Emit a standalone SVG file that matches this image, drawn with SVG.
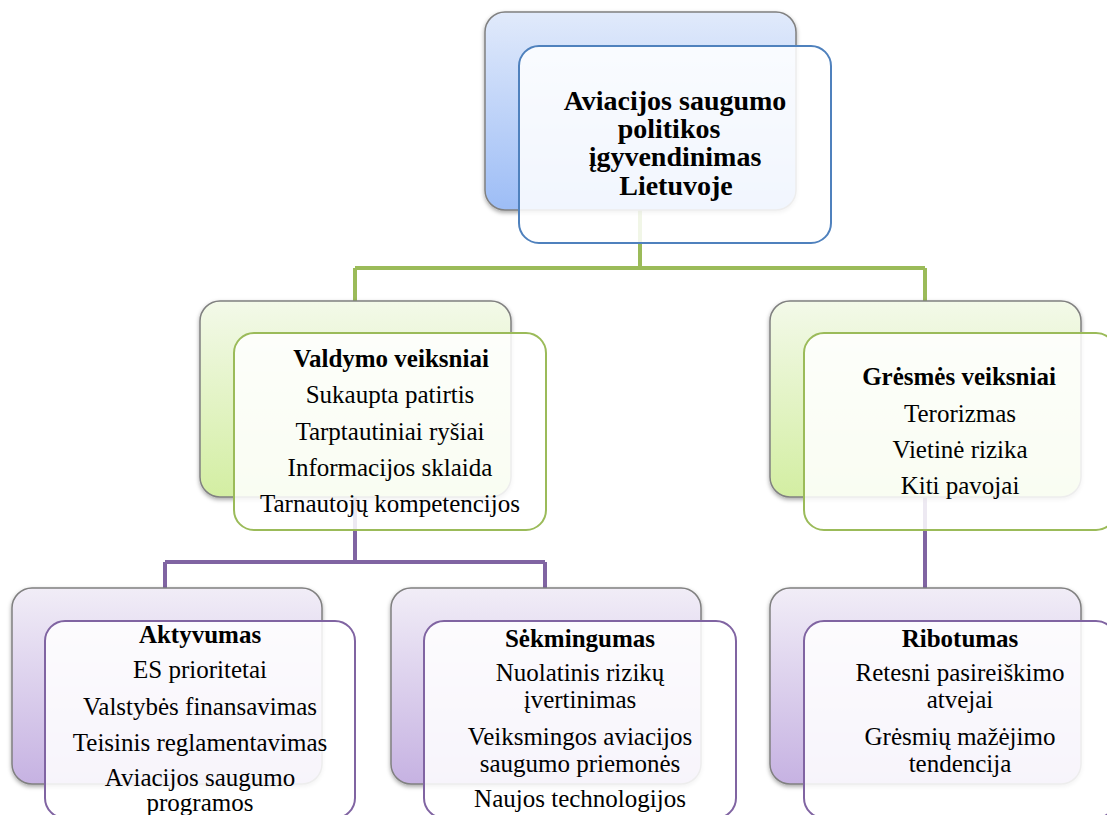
<svg xmlns="http://www.w3.org/2000/svg" width="1107" height="815" viewBox="0 0 1107 815">
<defs>
<linearGradient id="gBlue" x1="0" y1="0" x2="0" y2="1">
<stop offset="0" stop-color="#e1eafb"/><stop offset="1" stop-color="#9dbdf6"/>
</linearGradient>
<linearGradient id="gGreen" x1="0" y1="0" x2="0" y2="1">
<stop offset="0" stop-color="#f3f9e9"/><stop offset="1" stop-color="#d3eea2"/>
</linearGradient>
<linearGradient id="gPurple" x1="0" y1="0" x2="0" y2="1">
<stop offset="0" stop-color="#f1edf7"/><stop offset="1" stop-color="#c6b2e2"/>
</linearGradient>
<filter id="sh" x="-10%" y="-10%" width="120%" height="125%">
<feDropShadow dx="0" dy="2" stdDeviation="2" flood-color="#000" flood-opacity="0.35"/>
</filter>
</defs>
<style>
.back{stroke:#808080;stroke-width:1.5;filter:url(#sh)}
.front{fill:#ffffff;fill-opacity:0.86;stroke-width:2}
.fb{stroke:#4f81bd}.fg{stroke:#9bbb59}.fp{stroke:#8064a2}
.conG{fill:none;stroke:#9bbb59;stroke-width:4}
.conP{fill:none;stroke:#8064a2;stroke-width:4}
text{font-family:"Liberation Serif","Times New Roman",serif;fill:#000;text-anchor:middle}
.t{font-size:25px}
.b{font-size:25px;font-weight:bold}
.top{font-size:28px;font-weight:bold}
</style>
<g id="connectors">
<path class="conG" d="M640,210 V268 M355,268 H925 M355,268 V301 M925,268 V301"/>
<path class="conP" d="M355,497 V562 M165,562 H545 M165,562 V588 M545,562 V588"/>
<path class="conP" d="M925,497 V588"/>
</g>
<g id="node-root">
<rect class="back" x="485" y="12" width="311" height="198" rx="20" fill="url(#gBlue)"/>
<rect class="front fb" x="519" y="46" width="312" height="197" rx="20"/>
<text class="top" x="675" y="110">Aviacijos saugumo</text>
<text class="top" x="669" y="138">politikos</text>
<text class="top" x="675" y="166">įgyvendinimas</text>
<text class="top" x="676" y="195">Lietuvoje</text>
</g>
<g id="node-valdymo">
<rect class="back" x="200" y="301" width="311" height="196" rx="20" fill="url(#gGreen)"/>
<rect class="front fg" x="234" y="333" width="312" height="197" rx="20"/>
<text class="b" x="391" y="367">Valdymo veiksniai</text>
<text class="t" x="390" y="403">Sukaupta patirtis</text>
<text class="t" x="390" y="440">Tarptautiniai ryšiai</text>
<text class="t" x="390" y="476">Informacijos sklaida</text>
<text class="t" x="390" y="512">Tarnautojų kompetencijos</text>
</g>
<g id="node-gresmes">
<rect class="back" x="770" y="301" width="311" height="196" rx="20" fill="url(#gGreen)"/>
<rect class="front fg" x="804" y="333" width="312" height="197" rx="20"/>
<text class="b" x="959" y="385">Grėsmės veiksniai</text>
<text class="t" x="960" y="422">Terorizmas</text>
<text class="t" x="960" y="458">Vietinė rizika</text>
<text class="t" x="960" y="494">Kiti pavojai</text>
</g>
<g id="node-aktyvumas">
<rect class="back" x="12" y="588" width="310" height="196" rx="20" fill="url(#gPurple)"/>
<rect class="front fp" x="45" y="621" width="310" height="197" rx="20"/>
<text class="b" x="200" y="643">Aktyvumas</text>
<text class="t" x="200" y="678">ES prioritetai</text>
<text class="t" x="200" y="715">Valstybės finansavimas</text>
<text class="t" x="200" y="751">Teisinis reglamentavimas</text>
<text class="t" x="200" y="786">Aviacijos saugumo</text>
<text class="t" x="200" y="811">programos</text>
</g>
<g id="node-sekmingumas">
<rect class="back" x="391" y="588" width="310" height="196" rx="20" fill="url(#gPurple)"/>
<rect class="front fp" x="424" y="621" width="312" height="197" rx="20"/>
<text class="b" x="580" y="647">Sėkmingumas</text>
<text class="t" x="580" y="681">Nuolatinis rizikų</text>
<text class="t" x="580" y="708">įvertinimas</text>
<text class="t" x="580" y="745">Veiksmingos aviacijos</text>
<text class="t" x="580" y="772">saugumo priemonės</text>
<text class="t" x="580" y="807">Naujos technologijos</text>
</g>
<g id="node-ribotumas">
<rect class="back" x="770" y="588" width="311" height="196" rx="20" fill="url(#gPurple)"/>
<rect class="front fp" x="804" y="621" width="312" height="197" rx="20"/>
<text class="b" x="960" y="647">Ribotumas</text>
<text class="t" x="960" y="681">Retesni pasireiškimo</text>
<text class="t" x="960" y="708">atvejai</text>
<text class="t" x="960" y="745">Grėsmių mažėjimo</text>
<text class="t" x="960" y="772">tendencija</text>
</g>
</svg>
